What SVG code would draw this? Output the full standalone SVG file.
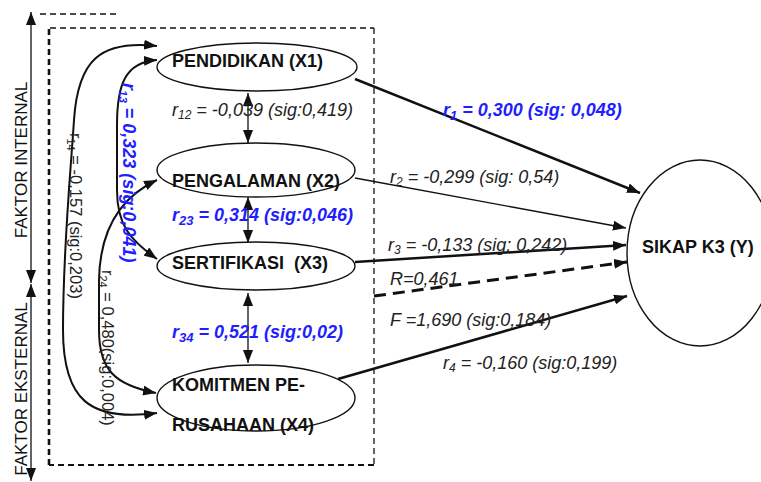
<svg xmlns="http://www.w3.org/2000/svg" width="761" height="482" viewBox="0 0 761 482">
  <style>
    .node { fill: #ffffff; stroke: #111; stroke-width: 1.4; }
    .nl { font-family: "Liberation Sans", Arial, sans-serif; font-weight: bold; font-size: 18px; fill: #111; }
    .lbl { font-family: "Liberation Sans", Arial, sans-serif; font-style: italic; font-size: 18px; fill: #222; }
    .blue { font-family: "Liberation Sans", Arial, sans-serif; font-style: italic; font-weight: bold; font-size: 18px; fill: #1e1eff; }
    .rot { font-family: "Liberation Sans", Arial, sans-serif; font-size: 16.5px; fill: #222; }
    .axis { font-family: "Liberation Sans", Arial, sans-serif; font-size: 17px; fill: #111; }
    .ln { fill: none; stroke: #111; }
    .thin { stroke-width: 1.3; }
    .thick { stroke-width: 2.5; }
    .curve { stroke-width: 2; }
  </style>
  <defs>
    <marker id="ah" markerUnits="userSpaceOnUse" markerWidth="14" markerHeight="10" refX="13" refY="5" orient="auto-start-reverse">
      <path d="M0,0 L13,5 L0,10 Z" fill="#111"/>
    </marker>
  </defs>

  <!-- side axes -->
  <g id="axes">
    <line class="ln thin" x1="31" y1="12" x2="31" y2="283" marker-start="url(#ah)" marker-end="url(#ah)"/>
    <line class="ln thin" x1="31" y1="284" x2="31" y2="481" marker-start="url(#ah)" marker-end="url(#ah)"/>
    <line class="ln" stroke-width="1.3" stroke-dasharray="6,4" x1="40" y1="14" x2="120" y2="14"/>
    <text class="axis" text-anchor="middle" transform="translate(27,160) rotate(-90)">FAKTOR INTERNAL</text>
    <text class="axis" font-size="16" text-anchor="middle" transform="translate(27,389) rotate(-90)">FAKTOR EKSTERNAL</text>
  </g>

  <!-- dashed frame around the factors -->
  <g id="frame" fill="none" stroke="#111" stroke-dasharray="6,4">
    <path d="M50,28 H374" stroke-width="1.6"/>
    <path d="M374,28 V465" stroke-width="1.3"/>
    <path d="M374,465 H49" stroke-width="1.8"/>
    <path d="M49,465 V28" stroke-width="2.6"/>
  </g>

  <!-- connectors -->
  <g id="connectors">
    <line class="ln thick" x1="355" y1="79" x2="640" y2="193" marker-end="url(#ah)"/>
    <line class="ln thin" x1="355" y1="178" x2="626" y2="228" marker-end="url(#ah)"/>
    <line class="ln thick" x1="355" y1="262" x2="626" y2="245" marker-end="url(#ah)"/>
    <line class="ln" stroke-width="3" stroke-dasharray="12,7" x1="374" y1="296" x2="627" y2="262" marker-end="url(#ah)"/>
    <line class="ln thick" x1="338" y1="379" x2="627" y2="296" marker-end="url(#ah)"/>

    <line class="ln thin" x1="248" y1="93" x2="248" y2="143" marker-start="url(#ah)" marker-end="url(#ah)"/>
    <line class="ln thin" x1="248" y1="197" x2="248" y2="243" marker-start="url(#ah)" marker-end="url(#ah)"/>
    <line class="ln thin" x1="248" y1="293" x2="248" y2="363" marker-start="url(#ah)" marker-end="url(#ah)"/>

    <path class="ln curve" d="M157,46 C100,40 78,60 74,120 C70,180 63,250 63,330 C63,400 90,422 157,413" marker-start="url(#ah)" marker-end="url(#ah)"/>
    <path class="ln curve" d="M157,60 C125,62 117,85 117,125 L117,190 C117,225 130,240 157,259" marker-start="url(#ah)" marker-end="url(#ah)"/>
    <path class="ln curve" d="M157,180 C125,195 100,225 99,280 L99,330 C99,370 115,385 156,393" marker-start="url(#ah)" marker-end="url(#ah)"/>
  </g>

  <!-- nodes -->
  <g id="x1">
    <ellipse class="node" cx="257" cy="67" rx="100" ry="24"/>
    <text class="nl" x="172" y="67">PENDIDIKAN (X1)</text>
  </g>
  <g id="x2">
    <ellipse class="node" cx="256" cy="170" rx="99" ry="27"/>
    <text class="nl" x="172" y="187">PENGALAMAN (X2)</text>
  </g>
  <g id="x3">
    <ellipse class="node" cx="256" cy="266" rx="99" ry="24"/>
    <text class="nl" x="172" y="269" xml:space="preserve">SERTIFIKASI  (X3)</text>
  </g>
  <g id="x4">
    <ellipse class="node" cx="256" cy="398" rx="99" ry="33"/>
    <text class="nl" x="172" y="391">KOMITMEN PE-</text>
    <text class="nl" x="172" y="431">RUSAHAAN (X4)</text>
  </g>
  <g id="y">
    <ellipse class="node" cx="700" cy="253" rx="73" ry="93"/>
    <text class="nl" x="642" y="253">SIKAP K3 (Y)</text>
  </g>

  <!-- coefficient labels -->
  <g id="labels">
    <text class="lbl" x="172" y="116">r<tspan font-size="12" dy="3">12</tspan><tspan dy="-3"> = -0,039 (sig:0,419)</tspan></text>
    <text class="blue" x="172" y="221">r<tspan font-size="13" dy="4">23</tspan><tspan dy="-4"> = 0,314 (sig:0,046)</tspan></text>
    <text class="blue" x="172" y="338">r<tspan font-size="13" dy="4">34</tspan><tspan dy="-4"> = 0,521 (sig:0,02)</tspan></text>
    <text class="blue" x="443" y="116">r<tspan font-size="13" dy="4">1</tspan><tspan dy="-4"> = 0,300 (sig: 0,048)</tspan></text>
    <text class="lbl" x="390" y="183">r<tspan font-size="12" dy="3">2</tspan><tspan dy="-3"> = -0,299 (sig: 0,54)</tspan></text>
    <text class="lbl" x="388" y="251">r<tspan font-size="12" dy="3">3</tspan><tspan dy="-3"> = -0,133 (sig: 0,242)</tspan></text>
    <text class="lbl" x="390" y="285">R=0,461</text>
    <text class="lbl" x="390" y="326">F =1,690 (sig:0,184)</text>
    <text class="lbl" x="443" y="369">r<tspan font-size="12" dy="3">4</tspan><tspan dy="-3"> = -0,160 (sig:0,199)</tspan></text>
    <text class="blue" font-size="15.5" transform="translate(123,83) rotate(90)">r<tspan font-size="11.5" dy="4">13</tspan><tspan dy="-4"> = 0,323 (sig:0,041)</tspan></text>
    <text class="rot" transform="translate(70,133) rotate(90)">r<tspan font-size="11" dy="3">14</tspan><tspan dy="-3"> = -0,157 (sig:0,203)</tspan></text>
    <text class="rot" transform="translate(102,270) rotate(90)">r<tspan font-size="11" dy="3">24</tspan><tspan dy="-3"> = 0,480(sig:0,004)</tspan></text>
  </g>
</svg>
